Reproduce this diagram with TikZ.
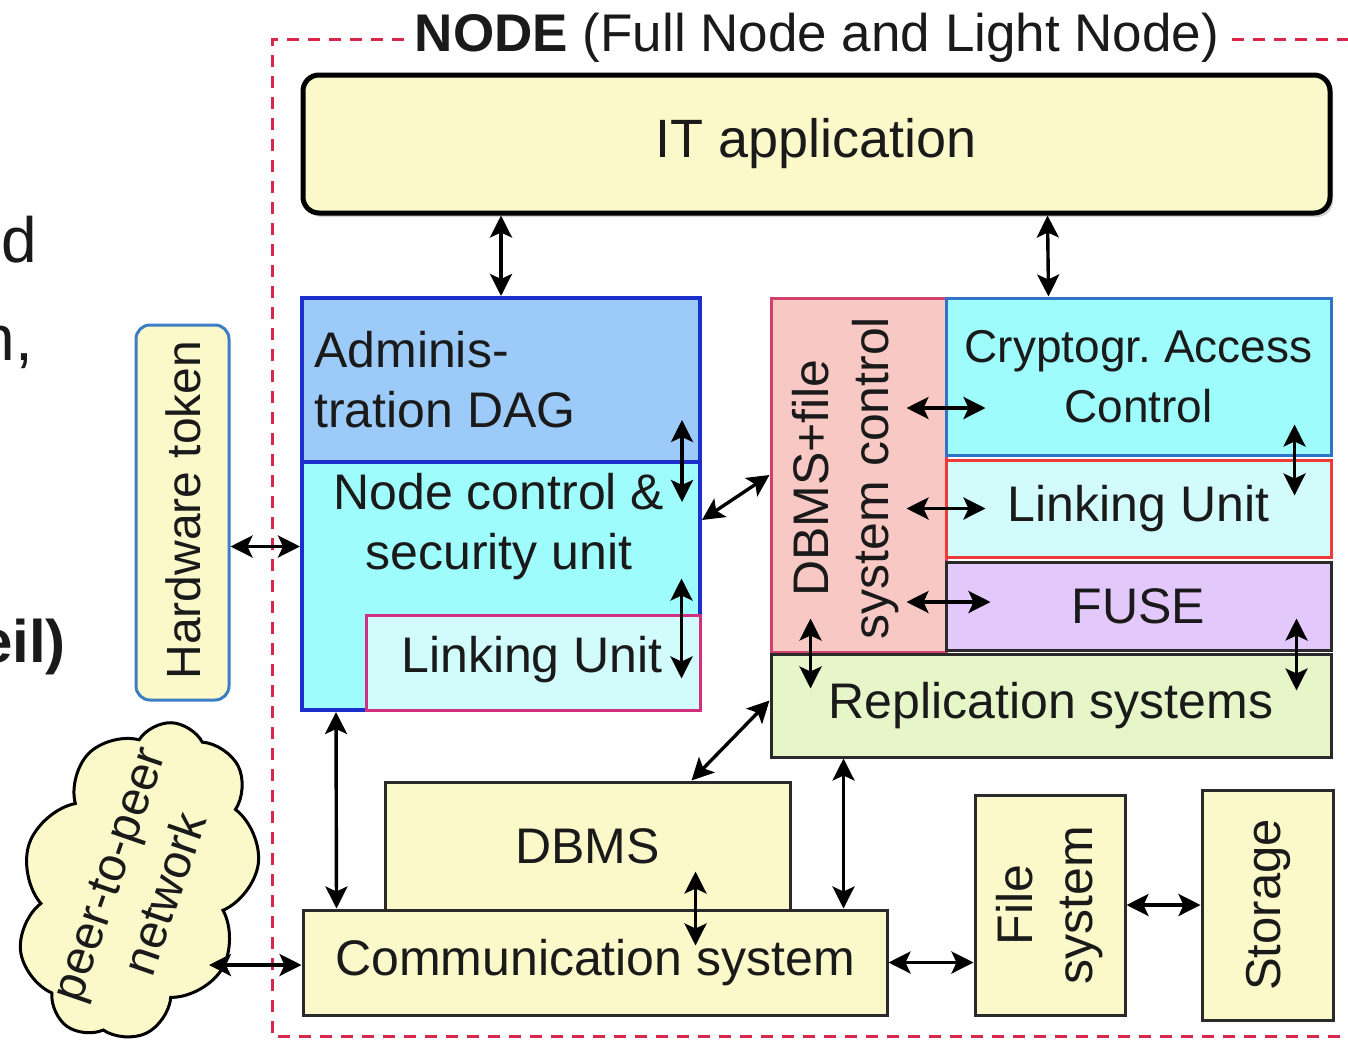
\documentclass[tikz,border=0pt]{standalone}
\usepackage{fontspec}
\setmainfont{Liberation Sans}
\usetikzlibrary{arrows.meta,shapes.symbols,shadows,calc}
\definecolor{yel}{HTML}{FBF9C9}
\definecolor{adminfill}{HTML}{9CCBFA}
\definecolor{adminline}{HTML}{1C2FCC}
\definecolor{cyanfill}{HTML}{9FFCFC}
\definecolor{lightcyan}{HTML}{D2FCFC}
\definecolor{magline}{HTML}{D0307F}
\definecolor{salmon}{HTML}{F8C8C4}
\definecolor{pinkline}{HTML}{D0406A}
\definecolor{cryptoline}{HTML}{3173C6}
\definecolor{redline}{HTML}{F03A3A}
\definecolor{fusefill}{HTML}{E3C9FB}
\definecolor{replfill}{HTML}{E7F6C9}
\definecolor{hwline}{HTML}{3C7EC4}
\definecolor{framered}{HTML}{D8274A}
\definecolor{boxline}{HTML}{2A2A2A}
\definecolor{txt}{HTML}{1A1A1A}
\begin{document}
\begin{tikzpicture}[x=1pt,y=-1pt,
  box/.style={draw=boxline, line width=3pt, inner sep=0pt, text=txt, align=center},
  lbl/.style={text=txt, inner sep=0pt, align=center},
  tipA/.tip={Stealth[length=22pt,width=22pt,inset=5pt]},
  biarrow/.style={tipA-tipA, line width=3.4pt, black},
  fs/.style={font=\fontsize{50}{60}\selectfont}
]
\useasboundingbox (0,0) rectangle (1348,1041);
\fill[white] (0,0) rectangle (1348,1041);

% left-edge text fragments
\node[lbl, anchor=base east, font=\fontsize{64}{70}\selectfont] (fragA) at (37,262) {d};
\node[lbl, anchor=base east, font=\fontsize{64}{70}\selectfont] (fragB) at (33,360) {n,};
\node[lbl, anchor=base east, font=\fontsize{60}{70}\selectfont\bfseries] (fragC) at (66,662) {eil)};

% frame
\draw[framered, line width=3pt, dash pattern=on 12pt off 9pt] (1370,40) -- (272,40) -- (272,1036) -- (1370,1036);
\node[fill=white, inner xsep=8pt, inner ysep=2pt, text=txt, font=\fontsize{53}{60}\selectfont] (title) at (817,38) {\textbf{NODE} (Full Node and Light Node)};

% IT application
\node[box, draw=black, line width=5pt, fill=yel, rounded corners=16pt, minimum width=1027pt, minimum height=138pt,
  drop shadow={shadow xshift=3pt,shadow yshift=-4pt,opacity=.35}, font=\fontsize{54}{60}\selectfont] (itapp) at (816.5,144) {IT application};

% left block
\node[box, draw=adminline, line width=4pt, fill=adminfill, minimum width=398pt, minimum height=164pt] (admin) at (501,380) {};
\node[box, draw=adminline, line width=4pt, fill=cyanfill, minimum width=398pt, minimum height=248pt] (nodectl) at (501,586) {};
\node[box, draw=magline, line width=3pt, fill=lightcyan, minimum width=334pt, minimum height=95pt] (link1) at (533,662.5) {};
\node[lbl, fs, anchor=west, align=left] (admintxt) at (314,380) {Adminis-\\tration DAG};
\node[lbl, fs] (nodetxt) at (499,527) {Node control \&\\security unit};
\node[lbl, fs] (link1txt) at (532,660) {Linking Unit};

% hardware token
\node[box, draw=hwline, line width=3pt, fill=yel, rounded corners=14pt, minimum width=93pt, minimum height=375pt] (hw) at (182.5,512.5) {};
\node[lbl, font=\fontsize{48}{58}\selectfont, rotate=90] (hwtxt) at (183,510) {Hardware token};

% cloud
\node[cloud, cloud puffs=9, cloud puff arc=120, draw=black, line width=3pt, fill=yel, rotate=71, minimum width=326pt, minimum height=230pt, inner sep=0pt] (cloud) at (138,881) {};
\node[lbl, font=\fontsize{48}{60}\selectfont, rotate=71] (cloudtxt) at (137,884) {peer-to-peer\\network};

% right block
\node[box, draw=pinkline, fill=salmon, minimum width=175pt, minimum height=354pt] (dbmsctl) at (858.5,475) {};
\node[lbl, fs, rotate=90] (dbmsctltxt) at (846,478) {DBMS+file\\system control};
\node[box, draw=cryptoline, fill=cyanfill, minimum width=385pt, minimum height=157pt, font=\fontsize{46}{60}\selectfont] (crypto) at (1138.5,376.5) {Cryptogr.\ Access\\Control};
\node[box, draw=redline, fill=lightcyan, minimum width=385pt, minimum height=97pt, fs] (link2) at (1138.5,508.5) {Linking Unit};
\node[box, fill=fusefill, minimum width=385pt, minimum height=88pt, fs] (fuse) at (1138.5,606) {FUSE};
\node[box, fill=replfill, minimum width=560pt, minimum height=103pt, fs] (repl) at (1051,705.5) {Replication systems};

% bottom
\node[box, fill=yel, minimum width=405pt, minimum height=128pt, fs] (dbms) at (587.5,846) {DBMS};
\node[box, fill=yel, minimum width=584pt, minimum height=105pt, fs] (comm) at (595,962.5) {Communication system};
\node[box, fill=yel, minimum width=150pt, minimum height=220pt] (filesys) at (1050,905) {};
\node[lbl, fs, rotate=90] (filesystxt) at (1050,905) {File\\system};
\node[box, fill=yel, minimum width=131pt, minimum height=230pt] (storage) at (1267.5,905) {};
\node[lbl, font=\fontsize{49}{60}\selectfont, rotate=90] (storagetxt) at (1268,905) {Storage};

% connectors
\draw[biarrow] (itapp.south -| admin.north) -- (admin.north);
\draw[biarrow] ($(itapp.south west)+(747,0)$) -- ($(crypto.north west)+(104,0)$);
\coordinate (hwR) at ($(hw.east)+(0,34)$);
\draw[biarrow] (hwR) -- (hwR -| nodectl.west);
\draw[biarrow] ($(admin.south east)+(-20,-44)$) -- ($(admin.south east)+(-20,38)$);
\draw[biarrow] ($(link1.north east)+(-20,-35)$) -- ($(link1.north east)+(-20,65)$);
\draw[biarrow] ($(nodectl.north east)+(0,60)$) -- (dbmsctl.west);
\draw[biarrow] ($(nodectl.south west)+(36,0)$) -- ($(comm.north west)+(35,0)$);
\draw[biarrow] ($(repl.west)+(0,-5)$) -- ($(dbms.north west)+(308,0)$);
\draw[biarrow] ($(repl.south west)+(74,0)$) -- ($(comm.north west)+(542,0)$);
\draw[biarrow] ($(comm.north west)+(394,-37)$) -- ($(comm.north west)+(394,37)$);
\draw[biarrow] (comm.east) -- (comm.east -| filesys.west);
\draw[biarrow] (filesys.east) -- (storage.west);
\coordinate (cloudR) at (209,965);
\draw[biarrow] (cloudR) -- (cloudR -| comm.west);
\draw[biarrow] ($(crypto.west)+(-38,31.5)$) -- ($(crypto.west)+(41,31.5)$);
\draw[biarrow] ($(link2.west)+(-38,0)$) -- ($(link2.west)+(41,0)$);
\draw[biarrow] ($(fuse.west)+(-38,-4)$) -- ($(fuse.west)+(46,-4)$);
\draw[biarrow] ($(crypto.south east)+(-38,-32)$) -- ($(crypto.south east)+(-38,39)$);
\draw[biarrow] ($(repl.north east)+(-36,-34)$) -- ($(repl.north east)+(-36,38)$);
\draw[biarrow] ($(repl.north west)+(41,-34)$) -- ($(repl.north west)+(41,36)$);
\end{tikzpicture}
\end{document}
